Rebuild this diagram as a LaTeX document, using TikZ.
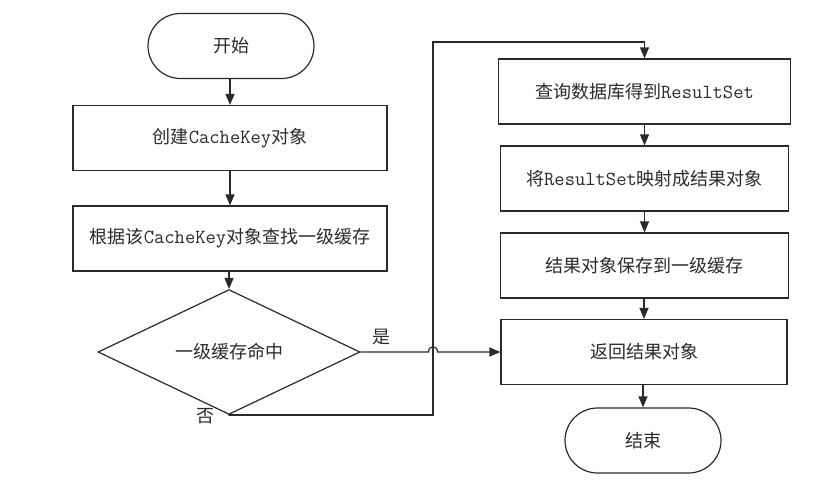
\documentclass[tikz,border=0pt]{standalone}
\usepackage{fontspec}
\newfontfamily\cjk{Noto Sans CJK SC}
\newcommand\codetxt[1]{{\ttfamily\fontsize{20}{22}\selectfont #1}}
\usetikzlibrary{arrows.meta,shapes.geometric,shapes.misc}
\definecolor{ink}{HTML}{2A2A2A}
\tikzset{
  base/.style={draw=ink, line width=1.2pt, text=ink, inner sep=0pt,
    font=\cjk\fontsize{18}{20}\selectfont, align=center},
  terminal/.style={base, rounded rectangle, minimum width=#1, minimum height=65pt},
  procbox/.style={base, rectangle, minimum width=#1, minimum height=65pt},
  decision/.style={base, diamond, minimum width=262pt, minimum height=93pt},
  flow/.style={draw=ink, line width=1.2pt, -{Triangle[length=11pt,width=9pt]}},
  lbl/.style={text=ink, font=\cjk\fontsize{18}{20}\selectfont, inner sep=0pt}
}
\begin{document}
\begin{tikzpicture}[x=1pt,y=-1pt]
\useasboundingbox (0,0) rectangle (835,485);

% left column
\node[terminal=166pt] (start) at (231,46) {开始};
\node[procbox=314pt] (mk) at (230,138) {创建\codetxt{CacheKey}对象};
\node[procbox=314pt] (look) at (230,238.5) {根据该\codetxt{CacheKey}对象查找一级缓存};
\node[decision] (hit) at (229,352) {一级缓存命中};

% right column
\node[procbox=292pt] (query) at (644.5,91.5) {查询数据库得到\codetxt{ResultSet}};
\node[procbox=288pt] (map) at (644.5,178.5) {将\codetxt{ResultSet}映射成结果对象};
\node[procbox=288pt] (save) at (644.5,265.5) {结果对象保存到一级缓存};
\node[procbox=286pt] (ret) at (644,352) {返回结果对象};
\node[terminal=156pt] (end) at (643,440.5) {结束};

% straight flow
\draw[flow] (start.south -| mk.north) -- (mk.north);
\draw[flow] (mk) -- (look);
\draw[flow] (look.south -| hit.north) -- (hit.north);
\draw[flow] (query) -- (query.south |- map.north);
\draw[flow] (map) -- (save);
\draw[flow] (save.south -| ret.north) -- (ret.north);
\draw[flow] (ret.south -| end.north) -- (end.north);

% miss branch: down, right, up and over to the query box
\coordinate (m1) at (229,415);
\coordinate (m2) at (433,415);
\coordinate (m3) at (433,42);
\coordinate (m4) at (644.5,42);
\draw[flow] (hit.south) -- (m1) -- (m2) -- (m3) -- (m4) -- (query.north);

% hit branch, hopping over the miss line
\coordinate (j1) at (428.5,352);
\coordinate (j2) at (437.5,352);
\draw[flow] (hit.east) -- (j1) .. controls (428.5,345) and (437.5,345) .. (j2) -- (ret.west);

\node[lbl] (yes) at (381,337) {是};
\node[lbl] (no) at (205,416) {否};
\end{tikzpicture}
\end{document}
